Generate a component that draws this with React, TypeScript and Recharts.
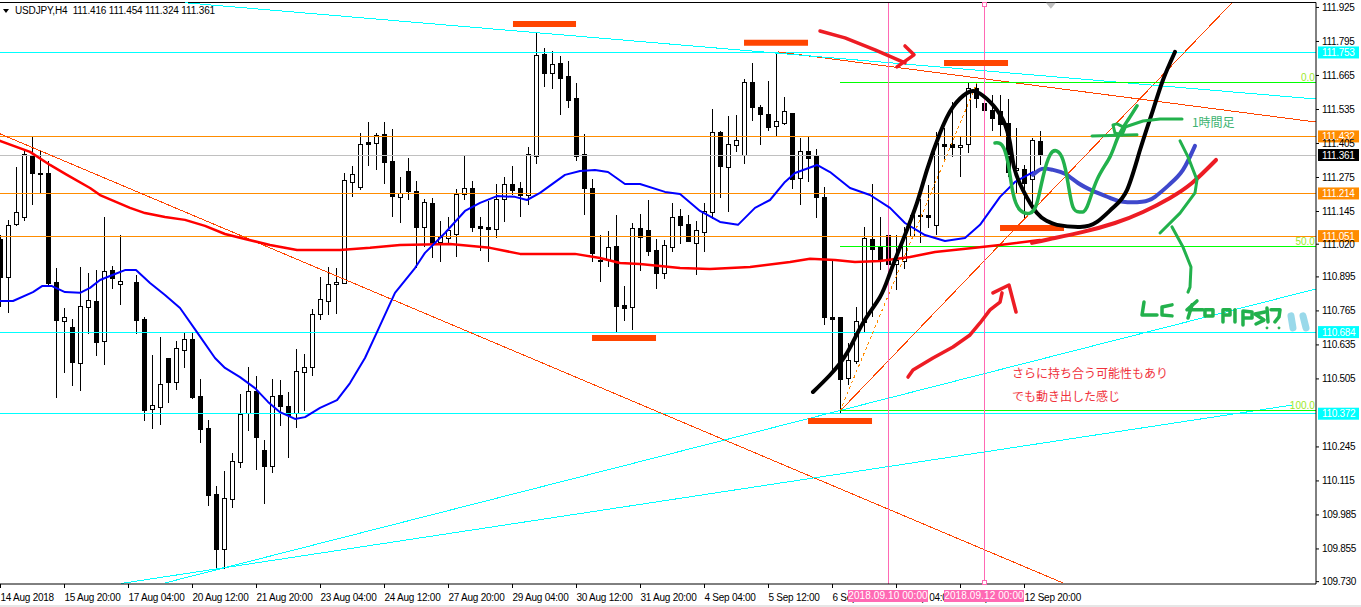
import { Bar, ComposedChart, Line, ReferenceDot, ReferenceLine, XAxis, YAxis } from 'recharts'

const FONT = '"Liberation Sans", sans-serif'
const JP_FONT = '"Noto Sans CJK JP", sans-serif'

// H4 candles, bar 16 is not drawn in the screenshot
const opens = [
  111.040, 110.894, 111.098, 111.124, 111.361, 111.293, 111.293, 110.875, 110.726, 110.703,
  110.566, 110.780, 110.803, 110.650, 110.921, 110.868, null, 110.875, 110.734, 110.390,
  110.397, 110.585, 110.493, 110.616, 110.658, 110.440, 110.317, 110.065, 109.855, 110.046,
  110.187, 110.375, 110.459, 110.233, 110.172, 110.444, 110.401, 110.375, 110.531, 110.551,
  110.753, 110.803, 110.868, 110.872, 111.258, 111.239, 111.411, 111.407, 111.442, 111.338,
  111.201, 111.300, 111.224, 111.086, 111.178, 111.029, 111.044, 111.059, 111.212, 111.235,
  111.090, 111.086, 111.078, 111.193, 111.250, 111.235, 111.208, 111.357, 111.748, 111.675,
  111.713, 111.663, 111.579, 111.365, 111.235, 110.960, 110.960, 111.013, 110.788, 110.780,
  111.082, 111.074, 110.998, 110.910, 111.009, 111.128, 111.098, 111.025, 111.067, 111.143,
  111.449, 111.315, 111.399, 111.361, 111.640, 111.545, 111.518, 111.472, 111.484, 111.522,
  111.273, 111.376, 111.357, 111.201, 110.742, 110.742, 110.508, 110.573, 110.723, 111.040,
  111.009, 111.055, 110.944, 110.956, 111.051, 111.132, 111.132, 111.094, 111.403, 111.403,
  111.392, 111.403, 111.617, 111.560, 111.533, 111.530, 111.484, 111.304, 111.308, 111.270,
  111.416,
]
const highs = [
  111.055, 111.113, 111.315, 111.380, 111.434, 111.376, 111.338, 110.929, 110.776, 110.734,
  110.933, 110.910, 110.921, 111.124, 110.937, 111.055, null, 110.902, 110.742, 110.597,
  110.665, 110.585, 110.650, 110.684, 110.684, 110.505, 110.348, 110.095, 110.153, 110.222,
  110.447, 110.551, 110.516, 110.271, 110.505, 110.501, 110.455, 110.619, 110.600, 110.772,
  110.894, 110.933, 110.929, 111.293, 111.319, 111.445, 111.487, 111.445, 111.487, 111.461,
  111.277, 111.350, 111.262, 111.193, 111.197, 111.109, 111.124, 111.231, 111.361, 111.262,
  111.124, 111.185, 111.250, 111.277, 111.319, 111.258, 111.392, 111.832, 111.770, 111.759,
  111.740, 111.721, 111.637, 111.442, 111.270, 111.055, 111.071, 111.132, 110.860, 111.101,
  111.136, 111.189, 111.040, 111.036, 111.178, 111.155, 111.132, 111.109, 111.178, 111.537,
  111.453, 111.510, 111.514, 111.652, 111.713, 111.552, 111.644, 111.755, 111.583, 111.522,
  111.426, 111.434, 111.384, 111.239, 110.960, 110.742, 110.642, 110.780, 111.086, 111.250,
  111.124, 111.086, 111.055, 111.086, 111.132, 111.193, 111.246, 111.449, 111.465, 111.564,
  111.430, 111.637, 111.633, 111.652, 111.591, 111.591, 111.575, 111.465, 111.323, 111.426,
  111.454,
]
const lows = [
  110.780, 110.758, 111.090, 111.109, 111.170, 111.216, 110.864, 110.432, 110.528, 110.478,
  110.459, 110.677, 110.593, 110.558, 110.849, 110.788, null, 110.677, 110.344, 110.313,
  110.329, 110.413, 110.463, 110.547, 110.428, 110.260, 110.019, 109.782, 109.778, 110.011,
  110.164, 110.306, 110.157, 110.027, 110.145, 110.325, 110.203, 110.317, 110.382, 110.516,
  110.730, 110.749, 110.753, 110.872, 111.201, 111.227, 111.319, 111.304, 111.250, 111.124,
  111.101, 111.189, 110.929, 111.009, 110.967, 110.952, 111.025, 110.971, 111.189, 111.067,
  110.994, 110.952, 111.044, 111.105, 111.208, 111.124, 111.170, 111.327, 111.621, 111.614,
  111.514, 111.541, 111.338, 111.132, 110.952, 110.875, 110.933, 110.684, 110.726, 110.692,
  110.917, 110.975, 110.849, 110.887, 110.990, 111.021, 111.029, 110.902, 110.990, 111.117,
  111.197, 111.143, 111.373, 111.327, 111.491, 111.399, 111.453, 111.434, 111.476, 111.231,
  111.170, 111.258, 111.120, 110.711, 110.539, 110.375, 110.482, 110.562, 110.684, 110.742,
  110.921, 110.910, 110.845, 110.925, 111.044, 111.025, 111.082, 111.055, 111.342, 111.353,
  111.277, 111.369, 111.541, 111.465, 111.453, 111.430, 111.277, 111.216, 111.113, 111.139,
  111.324,
]
const closes = [
  110.894, 111.094, 111.143, 111.365, 111.293, 111.289, 110.872, 110.730, 110.742, 110.569,
  110.784, 110.807, 110.646, 110.917, 110.891, 110.879, null, 110.730, 110.386, 110.405,
  110.485, 110.493, 110.623, 110.658, 110.436, 110.313, 110.061, 109.855, 110.050, 110.191,
  110.371, 110.459, 110.283, 110.172, 110.440, 110.401, 110.367, 110.535, 110.551, 110.753,
  110.811, 110.868, 110.875, 111.266, 111.289, 111.403, 111.403, 111.438, 111.334, 111.204,
  111.216, 111.224, 111.086, 111.182, 111.025, 111.048, 111.074, 111.212, 111.235, 111.086,
  111.082, 111.078, 111.193, 111.250, 111.227, 111.208, 111.365, 111.744, 111.675, 111.709,
  111.656, 111.572, 111.357, 111.235, 110.987, 110.956, 111.009, 110.784, 110.776, 111.082,
  111.048, 110.994, 110.910, 111.017, 111.124, 111.094, 111.032, 111.074, 111.147, 111.449,
  111.319, 111.403, 111.419, 111.640, 111.545, 111.518, 111.468, 111.491, 111.530, 111.270,
  111.376, 111.350, 111.201, 110.742, 110.734, 110.505, 110.577, 110.726, 111.044, 111.002,
  110.964, 110.944, 110.960, 111.048, 111.132, 111.128, 111.124, 111.407, 111.396, 111.392,
  111.399, 111.617, 111.579, 111.533, 111.503, 111.480, 111.296, 111.312, 111.254, 111.419,
  111.361,
]

// [bar, price]
const redMa = [[-0.06, 111.415], [3.69, 111.373], [6.19, 111.323], [8.31, 111.285], [11.19, 111.235], [12.44, 111.208], [16.19, 111.159], [18.06, 111.139], [20.56, 111.124], [23.06, 111.113], [25.56, 111.090], [28.06, 111.059], [30.56, 111.040], [33.69, 111.017], [37.06, 110.998], [42.44, 110.998], [46.19, 111.006], [49.94, 111.017], [56.19, 111.021], [61.19, 111.006], [64.94, 110.983], [71.81, 110.983], [74.94, 110.967], [77.44, 110.948], [79.94, 110.944], [84.94, 110.929], [88.69, 110.925], [93.69, 110.933], [98.69, 110.952], [101.19, 110.964], [104.31, 110.960], [106.81, 110.952], [109.94, 110.956], [113.69, 110.971], [116.81, 110.990], [121.81, 111.006], [124.94, 111.017], [129.94, 111.036]]
const blueMa = [[-0.06, 110.803], [1.56, 110.803], [4.06, 110.837], [5.19, 110.860], [6.44, 110.860], [8.06, 110.837], [9.94, 110.834], [11.19, 110.853], [12.44, 110.883], [14.31, 110.906], [15.56, 110.921], [16.94, 110.921], [18.69, 110.872], [20.56, 110.826], [22.44, 110.776], [24.56, 110.684], [26.81, 110.585], [28.06, 110.547], [29.94, 110.512], [31.81, 110.470], [33.44, 110.417], [34.94, 110.378], [36.81, 110.352], [38.06, 110.359], [39.94, 110.394], [42.06, 110.424], [43.69, 110.489], [45.56, 110.585], [47.06, 110.684], [49.31, 110.834], [51.81, 110.929], [53.06, 110.987], [55.56, 111.063], [58.06, 111.147], [59.94, 111.178], [62.06, 111.204], [64.31, 111.201], [65.81, 111.189], [67.44, 111.216], [70.56, 111.285], [72.44, 111.300], [74.31, 111.304], [75.94, 111.296], [78.06, 111.250], [79.94, 111.250], [83.06, 111.220], [84.94, 111.212], [87.44, 111.147], [89.94, 111.105], [92.19, 111.094], [94.31, 111.159], [96.19, 111.189], [98.06, 111.258], [99.31, 111.292], [102.06, 111.323], [103.69, 111.296], [106.19, 111.235], [108.69, 111.208], [111.19, 111.159], [113.06, 111.101], [115.56, 111.055], [118.06, 111.032], [120.56, 111.044], [122.44, 111.094], [124.94, 111.201], [126.81, 111.258], [129.06, 111.296]]

// hand drawn strokes on top of the chart
const penBlue = [[129.06, 111.285], [130.19, 111.308], [131.56, 111.304], [133.06, 111.289], [134.69, 111.254], [136.56, 111.224], [138.69, 111.197], [140.31, 111.182], [142.69, 111.182], [144.31, 111.201], [146.19, 111.250], [147.81, 111.304], [149.31, 111.396]]
const penRed = [[128.94, 111.025], [131.19, 111.040], [135.31, 111.067], [139.31, 111.101], [142.81, 111.143], [146.19, 111.197], [148.94, 111.254], [151.94, 111.342]]
const penBlack = [[101.56, 110.455], [103.69, 110.520], [105.81, 110.604], [107.81, 110.719], [109.94, 110.818], [111.19, 110.910], [112.81, 111.036], [114.56, 111.178], [115.81, 111.304], [117.44, 111.445], [119.06, 111.545], [120.81, 111.598], [122.06, 111.602], [123.69, 111.564], [125.31, 111.495], [126.19, 111.407], [126.69, 111.315], [127.81, 111.227], [129.56, 111.139], [130.81, 111.109], [132.06, 111.094], [134.94, 111.086], [137.06, 111.105], [139.06, 111.159], [140.81, 111.227], [142.44, 111.380], [144.06, 111.533], [145.31, 111.648], [146.81, 111.755]]
const penGreenWave = [[124.31, 111.407], [125.19, 111.399], [125.94, 111.331], [126.56, 111.216], [127.44, 111.151], [128.69, 111.139], [129.56, 111.178], [130.31, 111.277], [131.19, 111.361], [132.06, 111.376], [132.81, 111.342], [133.44, 111.254], [134.06, 111.162], [134.94, 111.143], [135.81, 111.162], [137.06, 111.266], [138.69, 111.354], [139.69, 111.430], [140.94, 111.495], [142.06, 111.549]]
const penGreenStrokes = [
  [[139.06, 111.476], [139.31, 111.445], [140.19, 111.438], [140.56, 111.465], [139.56, 111.480], [139.06, 111.476]],
  [[136.44, 111.434], [142.06, 111.438]],
  [[140.56, 111.468], [142.81, 111.491], [144.94, 111.499], [147.69, 111.499]],
  [[147.44, 111.415], [148.44, 111.354], [149.56, 111.266], [149.31, 111.216], [147.44, 111.139], [144.94, 111.063]],
  [[146.44, 111.086], [147.81, 111.009], [148.81, 110.933], [148.69, 110.856], [148.44, 110.837]],
  // LC 40 pips!?
  [[142.94, 110.799], [142.69, 110.749], [144.56, 110.749]],
  [[146.44, 110.788], [145.19, 110.780], [145.19, 110.749], [146.44, 110.746]],
  [[149.56, 110.803], [148.31, 110.769], [150.31, 110.769]],
  [[148.94, 110.788], [148.44, 110.738]],
  [[150.56, 110.769], [150.56, 110.746], [151.56, 110.746], [151.56, 110.769], [150.56, 110.769]],
  [[152.81, 110.723], [152.81, 110.769], [153.69, 110.769], [153.69, 110.749], [152.81, 110.749]],
  [[154.31, 110.769], [154.31, 110.723]],
  [[155.31, 110.711], [155.31, 110.765], [156.44, 110.761], [156.44, 110.738], [155.31, 110.738]],
  [[158.06, 110.761], [156.81, 110.753], [157.94, 110.730], [156.94, 110.715]],
  [[158.31, 110.776], [158.44, 110.723]],
  [[158.81, 110.769], [159.94, 110.769], [159.81, 110.742], [159.31, 110.723]],
]
const penDots = [[158.31, 110.700], [159.81, 110.700]]
const penDrops = [
  [[161.31, 110.746], [161.56, 110.700]],
  [[162.81, 110.746], [163.19, 110.700]],
]
const penRedStrokes = [
  [[102.44, 111.835], [105.56, 111.809], [109.31, 111.763], [113.06, 111.713]],
  [[113.06, 111.778], [114.19, 111.744], [112.06, 111.698]],
  [[113.44, 110.512], [114.06, 110.539], [116.56, 110.585], [119.06, 110.627], [121.19, 110.673], [122.44, 110.719], [123.69, 110.769], [124.94, 110.799], [125.19, 110.834]],
  [[124.06, 110.834], [126.06, 110.864], [126.94, 110.761]],
]

// thin trend lines: [bar, price, bar, price]
const orangeTrends = [
  [-0.06, 111.442, 132.81, 109.725],
  [97.19, 111.755, 164.43, 111.487],
  [104.94, 110.382, 153.94, 111.943],
]
const cyanTrends = [
  [23.06, 111.943, 164.43, 111.575],
  [20.56, 109.725, 164.43, 110.849],
  [15.06, 109.723, 161.44, 110.405],
]
const fibDash = [104.94, 110.382, 122.06, 111.637]
const fibLevels = [111.639, 111.012, 110.385]
const fibLabels = ['0.0', '50.0', '100.0']
// thick hand marks at the swing points: [bar, bar, price]
const swingMarks = [
  [64.06, 71.94, 111.862],
  [92.94, 100.94, 111.790],
  [117.94, 125.94, 111.713],
  [73.94, 81.94, 110.661],
  [100.94, 108.94, 110.344],
  [124.94, 132.94, 111.082],
]

const cyanLevels = [111.753, 110.684, 110.372]
const orangeLevels = [111.432, 111.214, 111.051]
const lastPrice = 111.361

// 110.375 sits under the 110.372 tag in the original, so it is left out
const priceTicks = [111.925, 111.795, 111.665, 111.535, 111.405, 111.275, 111.145, 111.020, 110.895, 110.765, 110.635, 110.505, 110.245, 110.115, 109.985, 109.855, 109.730]
const barTicks = [0, 8, 16, 24, 32, 40, 48, 56, 64, 72, 80, 88, 96, 104, 112, 120, 128]
const tickLabels = ['14 Aug 2018', '15 Aug 20:00', '17 Aug 04:00', '20 Aug 12:00', '21 Aug 20:00', '23 Aug 04:00', '24 Aug 12:00', '27 Aug 20:00', '29 Aug 04:00', '30 Aug 12:00', '31 Aug 20:00', '4 Sep 04:00', '5 Sep 12:00', '6 Sep 20:00', '10 Sep 04:00', '11 Sep 12:00', '12 Sep 20:00']
const pinkBars = [111, 123]
const pinkLabels = ['2018.09.10 00:00', '2018.09.12 00:00']

const candles = opens
  .map((open, i) => ({ x: i, open, high: highs[i], low: lows[i], close: closes[i] }))
  .filter(c => c.open !== null)

const toPoints = (pairs: number[][]) => pairs.map(([x, y]) => ({ x, y }))

function Candle(props: any) {
  const { x, y, width, height, payload } = props
  const perUnit = height / (payload.high - payload.low)
  const center = Math.floor(x + width / 2) + 0.5
  const openY = y + (payload.high - payload.open) * perUnit
  const closeY = y + (payload.high - payload.close) * perUnit
  const top = Math.round(Math.min(openY, closeY)) + 0.5
  const bottom = Math.round(Math.max(openY, closeY)) + 0.5
  const up = payload.close >= payload.open
  return (
    <g shapeRendering="crispEdges">
      <line x1={center} x2={center} y1={y} y2={y + height} stroke="#000" />
      <rect x={center - 2} y={top} width={4} height={Math.max(bottom - top, 1)} fill={up ? '#fff' : '#000'} stroke="#000" />
    </g>
  )
}

function XTick({ x, y, index }: any) {
  return (
    <g>
      <line x1={x} x2={x} y1={y - 8} y2={y - 4} stroke="#000" shapeRendering="crispEdges" />
      <text x={x} y={y + 9} fontSize={10} letterSpacing={-0.25} fontFamily={FONT} fill="#000">
        {tickLabels[index]}
      </text>
    </g>
  )
}

function priceTag(value: number, fill: string) {
  return ({ viewBox }: any) => (
    <g>
      <rect x={viewBox.x + viewBox.width + 2} y={viewBox.y - 6} width={41} height={12} fill={fill} />
      <text x={viewBox.x + viewBox.width + 6} y={viewBox.y + 3.5} fontSize={10} letterSpacing={-0.3} fontFamily={FONT} fill="#fff">
        {value.toFixed(3)}
      </text>
    </g>
  )
}

const Triangle = ({ cx, cy }: any) => <path d={`M${cx - 5} ${cy - 3}H${cx + 5}L${cx} ${cy + 3}Z`} fill="#c0c0c0" />
const PinkSquare = ({ cx, cy }: any) => <rect x={cx - 2} y={cy - 2} width={4} height={4} fill="#fff" stroke="#ff69b4" shapeRendering="crispEdges" />

function penLine(key: string, pairs: number[][], color: string, width: number, curve: any = 'linear') {
  return (
    <Line
      key={key}
      data={toPoints(pairs)}
      dataKey="y"
      type={curve}
      stroke={color}
      strokeWidth={width}
      strokeLinecap="round"
      strokeLinejoin="round"
      dot={false}
      activeDot={false}
      legendType="none"
      isAnimationActive={false}
    />
  )
}

function trendLine(key: string, t: number[], color: string, dash?: string) {
  return (
    <ReferenceLine
      key={key}
      segment={[{ x: t[0], y: t[1] }, { x: t[2], y: t[3] }]}
      stroke={color}
      strokeDasharray={dash}
      shapeRendering="crispEdges"
    />
  )
}

export default function App() {
  return (
    <div style={{ position: 'absolute', left: 0, top: 0, width: 1361, height: 607, background: '#fff', overflow: 'hidden' }}>
      <ComposedChart width={1361} height={607} data={candles} margin={{ top: 2.5, right: 0, bottom: 0, left: 0 }}>
        <XAxis
          dataKey="x"
          type="number"
          domain={[-0.0625, 164.4375]}
          allowDataOverflow
          ticks={barTicks}
          interval={0}
          height={23}
          tick={XTick}
          tickLine={false}
          axisLine={{ stroke: '#000' }}
        />
        <YAxis
          orientation="right"
          type="number"
          domain={[109.721, 111.944]}
          allowDataOverflow
          ticks={priceTicks}
          interval={0}
          width={45}
          tickSize={3}
          tickMargin={3}
          tickFormatter={(v: number) => v.toFixed(3)}
          tick={{ fill: '#000', fontSize: 10, fontFamily: FONT, letterSpacing: -0.3, textAnchor: 'start' }}
          axisLine={{ stroke: '#000' }}
          tickLine={{ stroke: '#000' }}
        />
        <ReferenceLine y={111.944} stroke="#000" shapeRendering="crispEdges" />

        {cyanLevels.map(v => (
          <ReferenceLine key={v} y={v} stroke="#00ffff" shapeRendering="crispEdges" label={priceTag(v, '#00ffff')} />
        ))}
        {orangeLevels.map(v => (
          <ReferenceLine key={v} y={v} stroke="#ff8c00" shapeRendering="crispEdges" label={priceTag(v, '#ff8c00')} />
        ))}
        <ReferenceLine y={lastPrice} stroke="#c0c0c0" shapeRendering="crispEdges" label={priceTag(lastPrice, '#000')} />

        {orangeTrends.map((t, i) => trendLine(`orange-${i}`, t, '#ff4500'))}
        {cyanTrends.map((t, i) => trendLine(`cyan-${i}`, t, '#00ffff'))}
        {trendLine('fib-dash', fibDash, '#ff8c00', '3 3')}
        {fibLevels.map(v => (
          <ReferenceLine key={v} segment={[{ x: 104.94, y: v }, { x: 164.43, y: v }]} stroke="#00ff00" shapeRendering="crispEdges" />
        ))}
        {fibLevels.map((v, i) => (
          <ReferenceDot
            key={fibLabels[i]}
            x={164.3}
            y={v + 0.02}
            r={0}
            label={{ value: fibLabels[i], position: 'left', offset: 0, fill: '#9be82a', fontSize: 10, fontFamily: FONT }}
          />
        ))}
        {pinkBars.map(b => (
          <ReferenceLine key={b} x={b} stroke="#ff69b4" shapeRendering="crispEdges" />
        ))}
        <ReferenceDot x={123} y={111.935} shape={PinkSquare} />
        <ReferenceDot x={123} y={109.727} shape={PinkSquare} />
        <ReferenceDot x={131.3} y={111.932} shape={Triangle} />

        {penLine('red-ma', redMa, '#ff0000', 2.5)}
        {penLine('blue-ma', blueMa, '#0000ff', 2)}

        <Bar dataKey={(d: any) => [d.low, d.high]} barSize={5} shape={Candle} isAnimationActive={false} legendType="none" />

        {swingMarks.map((m, i) => (
          <ReferenceLine key={i} segment={[{ x: m[0], y: m[2] }, { x: m[1], y: m[2] }]} stroke="#ff4500" strokeWidth={6} />
        ))}
        {penLine('pen-blue', penBlue, '#3f48cc', 4, 'natural')}
        {penLine('pen-red', penRed, '#ed1c24', 4, 'natural')}
        {penLine('pen-black', penBlack, '#000', 4, 'natural')}
        {penLine('pen-wave', penGreenWave, '#22b14c', 3.5, 'natural')}
        {penGreenStrokes.map((s, i) => penLine(`pen-green-${i}`, s, '#22b14c', i > 4 ? 3.5 : 3))}
        {penDots.map(([x, y]) => (
          <ReferenceDot key={x} x={x} y={y} r={1} fill="#22b14c" stroke="#22b14c" />
        ))}
        {penDrops.map((s, i) => penLine(`pen-drop-${i}`, s, '#99d9ea', 7))}
        {penRedStrokes.map((s, i) => penLine(`pen-arrow-${i}`, s, '#ed1c24', 3.5))}

        <ReferenceDot x={148.3} y={111.485} r={0} label={{ value: '1時間足', position: 'right', fill: '#3cb371', fontSize: 12, fontFamily: JP_FONT }} />
        <ReferenceDot x={125.8} y={110.526} r={0} label={{ value: 'さらに持ち合う可能性もあり', position: 'right', fill: '#f0323c', fontSize: 12, fontFamily: JP_FONT }} />
        <ReferenceDot x={125.8} y={110.436} r={0} label={{ value: 'でも動き出した感じ', position: 'right', fill: '#f0323c', fontSize: 12, fontFamily: JP_FONT }} />
      </ComposedChart>

      {pinkBars.map((b, i) => (
        <div
          key={b}
          style={{ position: 'absolute', left: 8 * b - 40, top: 590, width: 80, height: 12, background: '#ff69b4', color: '#fff', fontFamily: FONT, fontSize: 10, lineHeight: '12px', textAlign: 'center', letterSpacing: 0.1 }}
        >
          {pinkLabels[i]}
        </div>
      ))}
      <div style={{ position: 'absolute', left: 3, top: 9, width: 0, height: 0, borderLeft: '3.5px solid transparent', borderRight: '3.5px solid transparent', borderTop: '4px solid #000' }} />
      <div style={{ position: 'absolute', left: 15, top: 5, fontFamily: FONT, fontSize: 10, letterSpacing: -0.15, lineHeight: '12px', whiteSpace: 'pre', color: '#000' }}>
        USDJPY,H4  111.416 111.454 111.324 111.361
      </div>
      <div style={{ position: 'absolute', left: 0, top: 605, width: 1361, height: 2, background: '#e6e6e6' }} />
    </div>
  )
}
